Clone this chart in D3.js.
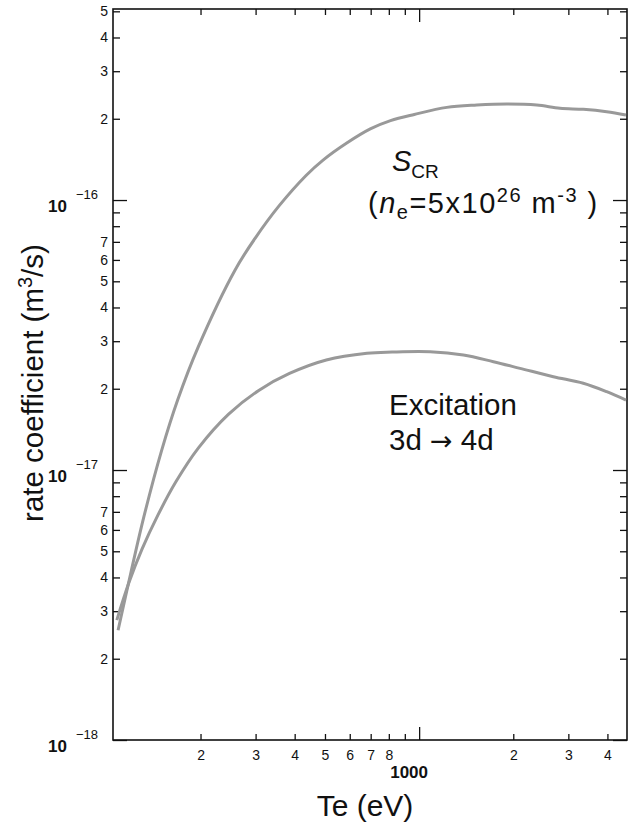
<!DOCTYPE html>
<html>
<head>
<meta charset="utf-8">
<script src="https://cdn.jsdelivr.net/npm/d3@7"></script>
<style>
  body { margin: 0; background: #fff; }
  text { font-family: "Liberation Sans", Arial, Helvetica, sans-serif; fill: #111; }
  .axis path, .axis line { stroke: #111; }
</style>
</head>
<body>
<script>
// Data (Te in eV, rate coefficient in m^3/s)
var scrTe = [109, 120, 132, 150, 169, 197, 258, 300, 357, 435, 493, 587, 698, 810, 965, 1226, 1529, 1906, 2377, 2821, 3349, 3979, 4585];
var scrRate = [2.55e-18, 4.21e-18, 6.76e-18, 1.175e-17, 1.816e-17, 2.87e-17, 5.51e-17, 7.26e-17, 9.53e-17, 1.233e-16, 1.406e-16, 1.626e-16, 1.834e-16, 1.968e-16, 2.075e-16, 2.204e-16, 2.248e-16, 2.268e-16, 2.248e-16, 2.186e-16, 2.167e-16, 2.123e-16, 2.064e-16];

var excTe = [108, 118, 130, 146, 167, 197, 246, 307, 385, 505, 681, 820, 1084, 1385, 1728, 2102, 2686, 3349, 3979, 4585];
var excRate = [2.78e-18, 3.82e-18, 5.09e-18, 6.79e-18, 9.06e-18, 1.208e-17, 1.611e-17, 1.972e-17, 2.278e-17, 2.556e-17, 2.708e-17, 2.735e-17, 2.742e-17, 2.667e-17, 2.518e-17, 2.38e-17, 2.216e-17, 2.095e-17, 1.95e-17, 1.816e-17];

var xMinorTicks = [200, 300, 400, 500, 600, 700, 800, 900, 2000, 3000, 4000];
var xMajorTicks = [1000];
var xLabelled = [200, 300, 400, 500, 600, 700, 800, 2000, 3000, 4000];
var yMinorTicks = [2e-18, 3e-18, 4e-18, 5e-18, 6e-18, 7e-18, 8e-18, 9e-18,
                   2e-17, 3e-17, 4e-17, 5e-17, 6e-17, 7e-17, 8e-17, 9e-17,
                   2e-16, 3e-16, 4e-16, 5e-16];
var yMajorTicks = [1e-18, 1e-17, 1e-16];
var yLabelDigits = [2, 3, 4, 5, 6, 7];

var width = 635, height = 826;
var margin = { left: 113, right: 627, top: 9, bottom: 740 };

var svg = d3.select("body").append("svg")
    .attr("width", width)
    .attr("height", height);

var x = d3.scaleLog().domain([105, 4620]).range([margin.left, margin.right]);
var y = d3.scaleLog().domain([1e-18, 5.1e-16]).range([margin.bottom, margin.top]);

function mantissa(v) {
    return Math.round(v / Math.pow(10, Math.floor(Math.log10(v) + 1e-9)));
}

function tickStyle(g) {
    g.select(".domain").remove();
    g.selectAll("line").attr("stroke-width", 1.3);
}

// bottom axis, minor ticks with labels
svg.append("g")
    .attr("class", "axis")
    .attr("transform", "translate(0," + margin.bottom + ")")
    .call(d3.axisBottom(x).tickValues(xMinorTicks).tickSizeInner(-6).tickSizeOuter(0).tickPadding(10)
        .tickFormat(function (d) { return xLabelled.indexOf(d) >= 0 ? mantissa(d) : ""; }))
    .call(tickStyle)
    .call(function (g) {
        g.selectAll("text").style("font-size", "14px").attr("fill", "#111");
    });

svg.append("g")
    .attr("class", "axis")
    .attr("transform", "translate(0," + margin.bottom + ")")
    .call(d3.axisBottom(x).tickValues(xMajorTicks).tickSizeInner(-13).tickSizeOuter(0).tickFormat(""))
    .call(tickStyle);

svg.append("text")
    .attr("x", x(1000) - 10)
    .attr("y", 778)
    .attr("text-anchor", "middle")
    .style("font-size", "17px")
    .style("font-weight", "bold")
    .text("1000");

// top axis mirror
svg.append("g")
    .attr("class", "axis")
    .attr("transform", "translate(0," + margin.top + ")")
    .call(d3.axisTop(x).tickValues(xMinorTicks).tickSizeInner(-6).tickSizeOuter(0).tickFormat(""))
    .call(tickStyle);
svg.append("g")
    .attr("class", "axis")
    .attr("transform", "translate(0," + margin.top + ")")
    .call(d3.axisTop(x).tickValues(xMajorTicks).tickSizeInner(-13).tickSizeOuter(0).tickFormat(""))
    .call(tickStyle);

// left axis
svg.append("g")
    .attr("class", "axis")
    .attr("transform", "translate(" + margin.left + ",0)")
    .call(d3.axisLeft(y).tickValues(yMinorTicks).tickSizeInner(-7).tickSizeOuter(0).tickPadding(5)
        .tickFormat(function (d) {
            var m = mantissa(d);
            return yLabelDigits.indexOf(m) >= 0 ? m : "";
        }))
    .call(tickStyle)
    .call(function (g) {
        g.selectAll("text").style("font-size", "14px").attr("fill", "#111");
    });
svg.append("g")
    .attr("class", "axis")
    .attr("transform", "translate(" + margin.left + ",0)")
    .call(d3.axisLeft(y).tickValues(yMajorTicks).tickSizeInner(-14).tickSizeOuter(0).tickFormat(""))
    .call(tickStyle);

// right axis mirror
svg.append("g")
    .attr("class", "axis")
    .attr("transform", "translate(" + margin.right + ",0)")
    .call(d3.axisRight(y).tickValues(yMinorTicks).tickSizeInner(-7).tickSizeOuter(0).tickFormat(""))
    .call(tickStyle);
svg.append("g")
    .attr("class", "axis")
    .attr("transform", "translate(" + margin.right + ",0)")
    .call(d3.axisRight(y).tickValues(yMajorTicks).tickSizeInner(-14).tickSizeOuter(0).tickFormat(""))
    .call(tickStyle);

// decade labels 10^n
var decade = svg.append("g").selectAll("g")
    .data(yMajorTicks)
    .enter().append("g");
decade.append("text")
    .attr("x", 48)
    .attr("y", function (d) { return y(d) + 12; })
    .style("font-size", "17px")
    .style("font-weight", "bold")
    .text("10");
decade.append("text")
    .attr("x", 76)
    .attr("y", function (d) { return y(d) - 1; })
    .style("font-size", "13px")
    .text(function (d) { return "\u2212" + Math.round(-Math.log10(d)); });

// frame
svg.append("rect")
    .attr("x", margin.left)
    .attr("y", margin.top)
    .attr("width", margin.right - margin.left)
    .attr("height", margin.bottom - margin.top)
    .attr("fill", "none")
    .attr("stroke", "#111")
    .attr("stroke-width", 1.6);

// curves
var line = d3.line()
    .x(function (d) { return x(d[0]); })
    .y(function (d) { return y(d[1]); })
    .curve(d3.curveCatmullRom.alpha(0.5));

svg.append("path")
    .datum(d3.zip(scrTe, scrRate))
    .attr("fill", "none")
    .attr("stroke", "#999")
    .attr("stroke-width", 3)
    .attr("d", line);

svg.append("path")
    .datum(d3.zip(excTe, excRate))
    .attr("fill", "none")
    .attr("stroke", "#999")
    .attr("stroke-width", 3)
    .attr("d", line);

// annotations
var scr = svg.append("text").attr("x", 392).attr("y", 171).style("font-size", "29px");
scr.append("tspan").style("font-style", "italic").text("S");
scr.append("tspan").attr("dy", 7).style("font-size", "19px").text("CR");

var ne = svg.append("text").attr("x", 368).attr("y", 213)
    .style("font-size", "29px").style("letter-spacing", "1.5px");
ne.append("tspan").text("(");
ne.append("tspan").style("font-style", "italic").text("n");
ne.append("tspan").attr("dy", 6).style("font-size", "20px").text("e");
ne.append("tspan").attr("dy", -6).text("=5x10");
ne.append("tspan").attr("dy", -11).style("font-size", "20px").text("26");
ne.append("tspan").attr("dy", 11).text(" m");
ne.append("tspan").attr("dy", -11).style("font-size", "20px").text("-3");
ne.append("tspan").attr("dy", 11).text(" )");

svg.append("text").attr("x", 389).attr("y", 415).style("font-size", "29.5px").text("Excitation");
var tr = svg.append("text").attr("x", 389).attr("y", 450).style("font-size", "29.5px");
tr.append("tspan").text("3d ");
tr.append("tspan").style("font-family", "'DejaVu Sans', sans-serif").style("font-size", "27px").text("\u2192");
tr.append("tspan").text(" 4d");

// axis titles
svg.append("text")
    .attr("x", 365)
    .attr("y", 816)
    .attr("text-anchor", "middle")
    .style("font-size", "30px")
    .text("Te (eV)");

var yt = svg.append("text")
    .attr("transform", "translate(43,383) rotate(-90)")
    .attr("text-anchor", "middle")
    .style("font-size", "29.5px");
yt.append("tspan").text("rate coefficient (m");
yt.append("tspan").attr("dy", -11).style("font-size", "20px").text("3");
yt.append("tspan").attr("dy", 11).text("/s)");
</script>
</body>
</html>
